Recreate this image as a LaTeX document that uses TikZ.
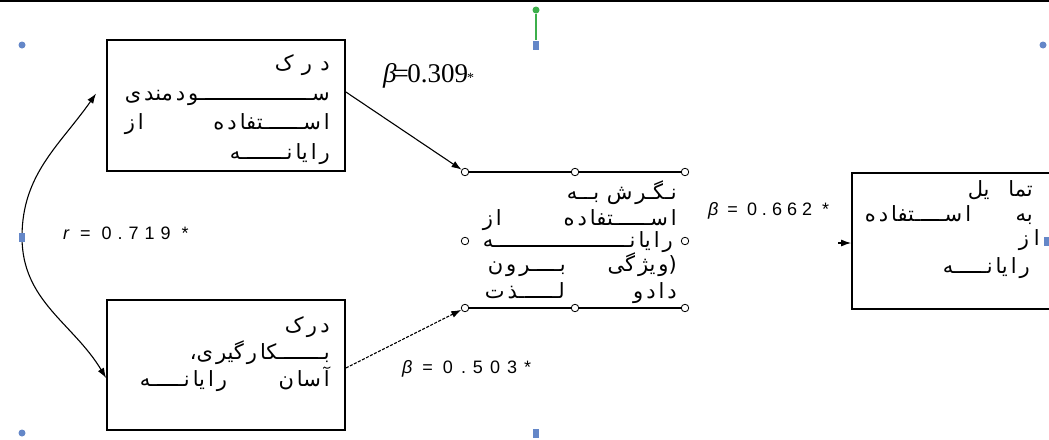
\documentclass[tikz,border=0pt]{standalone}
\usepackage{fontspec}
\usetikzlibrary{arrows.meta}
\TeXXeTstate=1
\newfontfamily\arabicfont[Script=Arabic]{DejaVu Sans}
\newfontfamily\labsans{Liberation Sans}
\newfontfamily\labserif{Liberation Serif}
\newcommand{\kf}{\leaders\hrule height 1.9pt depth 0pt\hskip 0pt plus 0.4fill\relax}
\newcommand{\gp}{\hskip 3pt\relax}
\newcommand{\pl}[2]{\hbox to #1pt{\beginR #2\endR}}
\definecolor{selblue}{RGB}{100,135,200}
\definecolor{selgreen}{RGB}{60,175,75}
\tikzset{
  box/.style={draw, line width=1.8pt, inner sep=0pt},
  ptx/.style={inner sep=0pt, font=\arabicfont\fontsize{21}{21}\selectfont, anchor=base east},
  lab/.style={inner sep=0pt, anchor=base west},
  arr/.style={-{Latex[length=10pt,width=7pt]}, line width=1.1pt},
  hnd/.style={circle, draw=black, fill=white, line width=0.8pt, inner sep=0pt, minimum size=7.5pt},
  selc/.style={circle, fill=selblue, inner sep=0pt, minimum size=7pt},
  sels/.style={rectangle, fill=selblue, inner sep=0pt, minimum width=6pt, minimum height=9pt},
  selg/.style={circle, fill=selgreen, inner sep=0pt, minimum size=7pt}
}
\begin{document}
\begin{tikzpicture}[x=1pt,y=-1pt]
\useasboundingbox (0,0) rectangle (1049,439);
\fill[white] (0,0) rectangle (1049,439);
% top border line
\draw[line width=2.5pt] (0,1.2) -- (1049,1.2);

% boxes
\node[box, minimum width=238pt, minimum height=131pt] (b1) at (226,105.5) {};
\node[box, minimum width=238pt, minimum height=130pt] (b2) at (226,365) {};
\node[box, minimum width=218pt, minimum height=136pt] (b3) at (961,241) {};

% box 1 text
\node[ptx] (t1a) at (330,70) {\pl{55}{د\hfill ر\hfill ک}};
\node[ptx] (t1b) at (330,100) {\pl{205}{سـ\kf ـو\gp د\gp مند\gp ی}};
\node[ptx] (t1c) at (330,129) {\pl{205}{ا\gp سـ\kf ـتفا\gp د\gp ه\hfill ا\gp ز}};
\node[ptx] (t1d) at (330,159) {\pl{100}{ر\gp ا\gp یا\gp نـ\kf ـه}};

% box 2 text
\node[ptx] (t2a) at (330,332) {\pl{45}{د\hfill ر\hfill ک}};
\node[ptx] (t2b) at (330,359) {\pl{140}{بـ\kf ـکا\gp ر\gp گیر\gp ی،}};
\node[ptx] (t2c) at (330,386) {\pl{190}{آ\gp سا\gp ن\hfill ر\gp ا\gp یا\gp نـ\kf ـه}};

% middle element
\node[hnd] (h1) at (465,172) {};
\node[hnd] (h2) at (575,172) {};
\node[hnd] (h3) at (685,172) {};
\node[hnd] (h4) at (465,241) {};
\node[hnd] (h5) at (685,241) {};
\node[hnd] (h6) at (465,308) {};
\node[hnd] (h7) at (575,308) {};
\node[hnd] (h8) at (685,308) {};
\draw[line width=1.3pt] (h1) -- (h2) -- (h3);
\draw[line width=1.3pt] (h6) -- (h7) -- (h8);
\node[ptx] (t3a) at (677,199) {\pl{110}{نـگـر\gp ش\hfill بـ\kf ـه}};
\node[ptx] (t3b) at (677,225) {\pl{194}{ا\gp سـ\kf ـتفا\gp د\gp ه\hfill ا\gp ز}};
\node[ptx] (t3c) at (673,247) {\pl{190}{ر\gp ا\gp یا\gp نـ\kf ـه}};
\node[ptx] (t3d) at (677,271) {\pl{189}{(و\gp یژ\gp گی\hfill بـ\kf ـر\gp و\gp ن}};
\node[ptx] (t3e) at (677,298) {\pl{192}{د\gp ا\gp د\gp و\hfill لـ\kf ـذ\gp ت}};

% right box text
\node[ptx] (t4a) at (1033,196) {\pl{65}{تما\hfill یل}};
\node[ptx] (t4b) at (1033,221) {\pl{168}{به\hfill ا\gp سـ\kf ـتفا\gp د\gp ه}};
\node[ptx] (t4c) at (1040,245) {\pl{21}{ا\hfill ز}};
\node[ptx] (t4d) at (1030,273) {\pl{87}{ر\gp ا\gp یا\gp نـ\kf ـه}};

% labels
\node[lab] (l1) at (383,82) {\labserif\fontsize{27}{27}\selectfont{\itshape β}\kern-3pt=\kern-1.5pt0.309\kern-1pt{\fontsize{14}{14}\selectfont*}};
\node[lab] (l2) at (63,239) {\labsans\fontsize{18}{18}\selectfont{\itshape r}\hskip11pt=\hskip11pt0\hskip6pt.\hskip6pt7\hskip6pt1\hskip6pt9\hskip11pt*};
\node[lab] (l3) at (402,373) {\labsans\fontsize{18}{18}\selectfont{\itshape β}\hskip10pt=\hskip10pt0\hskip8pt.\hskip7pt5\hskip7pt0\hskip7pt3\hskip7pt*};
\node[lab] (l4) at (708,215) {\labsans\fontsize{18}{18}\selectfont{\itshape β}\hskip9pt=\hskip9pt0\hskip5pt.\hskip5pt6\hskip5pt6\hskip5pt2\hskip10pt*};

% connectors
\draw[arr] ([yshift=13.5pt]b1.east) -- (h1);
\draw[arr, dash pattern=on 3pt off 1.5pt] ([yshift=-3pt]b2.east) -- (h6);
\coordinate (ain) at (838,243);
\draw[arr] (ain) -- (b3.west |- ain);

% selection handles of canvas
\node[sels] (s4) at (22,237) {};
\draw[{Latex[length=10pt,width=7pt]}-{Latex[length=10pt,width=7pt]}, line width=1.1pt]
  ([xshift=-10pt,yshift=12pt]b1.west) to[out=235,in=90] (s4.center) to[out=270,in=121] ([yshift=-13pt]b2.west);
\node[sels] (s4b) at (22,237) {};
\node[selc] (s1) at (22,45) {};
\node[sels] (s2) at (536,45) {};
\node[selg] (sg) at (536,10) {};
\draw[selgreen, line width=1.2pt] (sg) -- (s2);
\node[selc] (s3) at (1043,45) {};
\node[sels] (s5) at (1047,241) {};
\node[selc] (s6) at (22,433) {};
\node[sels] (s7) at (536,433) {};
\end{tikzpicture}
\end{document}
